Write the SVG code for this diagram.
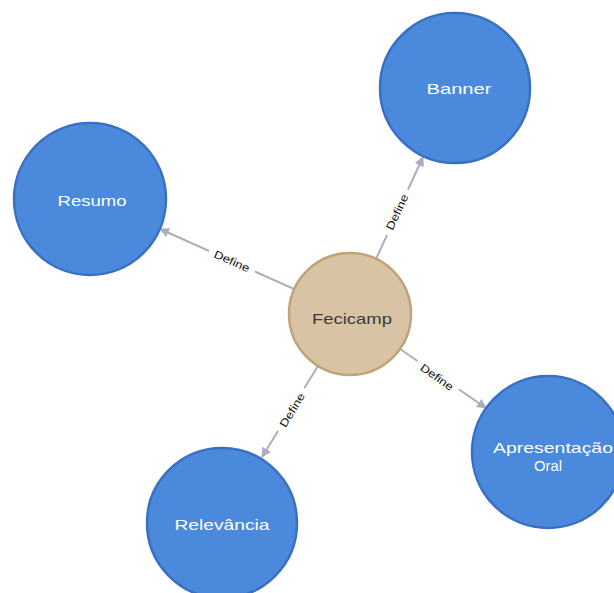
<svg xmlns="http://www.w3.org/2000/svg" width="614" height="593" viewBox="0 0 614 593">
  <defs>
    <marker id="arrow" viewBox="0 0 10 10" refX="9" refY="5" markerWidth="10" markerHeight="10" markerUnits="userSpaceOnUse" orient="auto">
      <path d="M0,0 L10,5 L0,10 Z" fill="#a9b0bc"/>
    </marker>
    <style>
      .edge { stroke: #a9b0bc; stroke-width: 2; fill: none; }
      .gap { fill: #ffffff; }
      .elabel { font-family: "Liberation Sans", Arial, sans-serif; font-size: 11px; fill: #111; text-anchor: middle; }
      .blue { fill: #4a89dc; stroke: #3a70c2; stroke-width: 2.5; }
      .tan { fill: #d8c3a4; stroke: #c0a477; stroke-width: 2.5; }
      .nlabel { font-family: "Liberation Sans", Arial, sans-serif; font-size: 15px; fill: #ffffff; text-anchor: middle; }
      .clabel { font-family: "Liberation Sans", Arial, sans-serif; font-size: 15px; fill: #3a3a3a; text-anchor: middle; }
    </style>
  </defs>

  <g id="connectors">
    <!-- Fecicamp -> Resumo -->
    <line class="edge" x1="294" y1="289" x2="160" y2="229" marker-end="url(#arrow)"/>
    <!-- Fecicamp -> Banner -->
    <line class="edge" x1="376" y1="259" x2="423" y2="157" marker-end="url(#arrow)"/>
    <!-- Fecicamp -> Relevancia -->
    <line class="edge" x1="318" y1="366" x2="262" y2="457" marker-end="url(#arrow)"/>
    <!-- Fecicamp -> Apresentacao Oral -->
    <line class="edge" x1="400" y1="349" x2="486" y2="408" marker-end="url(#arrow)"/>

    <g transform="translate(232,261) rotate(24)">
      <rect class="gap" x="-25" y="-8" width="50" height="16"/>
      <text class="elabel" y="4" textLength="38" lengthAdjust="spacingAndGlyphs">Define</text>
    </g>
    <g transform="translate(397,212) rotate(-65)">
      <rect class="gap" x="-25" y="-8" width="50" height="16"/>
      <text class="elabel" y="4" textLength="38" lengthAdjust="spacingAndGlyphs">Define</text>
    </g>
    <g transform="translate(292,410) rotate(-58.5)">
      <rect class="gap" x="-25" y="-8" width="50" height="16"/>
      <text class="elabel" y="4" textLength="38" lengthAdjust="spacingAndGlyphs">Define</text>
    </g>
    <g transform="translate(437,377) rotate(35)">
      <rect class="gap" x="-25" y="-8" width="50" height="16"/>
      <text class="elabel" y="4" textLength="38" lengthAdjust="spacingAndGlyphs">Define</text>
    </g>
  </g>

  <g id="node-fecicamp">
    <circle class="tan" cx="350" cy="314" r="61"/>
    <text class="clabel" x="352" y="324" textLength="80" lengthAdjust="spacingAndGlyphs">Fecicamp</text>
  </g>
  <g id="node-banner">
    <circle class="blue" cx="455" cy="88" r="75"/>
    <text class="nlabel" x="459" y="94" textLength="65" lengthAdjust="spacingAndGlyphs">Banner</text>
  </g>
  <g id="node-resumo">
    <circle class="blue" cx="90" cy="199" r="76"/>
    <text class="nlabel" x="92" y="206" textLength="69" lengthAdjust="spacingAndGlyphs">Resumo</text>
  </g>
  <g id="node-relevancia">
    <circle class="blue" cx="222" cy="523" r="75"/>
    <text class="nlabel" x="222" y="530" textLength="95" lengthAdjust="spacingAndGlyphs">Relevância</text>
  </g>
  <g id="node-apresentacao">
    <circle class="blue" cx="548" cy="452" r="76"/>
    <text class="nlabel" x="553" y="453" textLength="120" lengthAdjust="spacingAndGlyphs">Apresentação</text>
    <text class="nlabel" x="548" y="471" textLength="28" lengthAdjust="spacingAndGlyphs">Oral</text>
  </g>
</svg>
